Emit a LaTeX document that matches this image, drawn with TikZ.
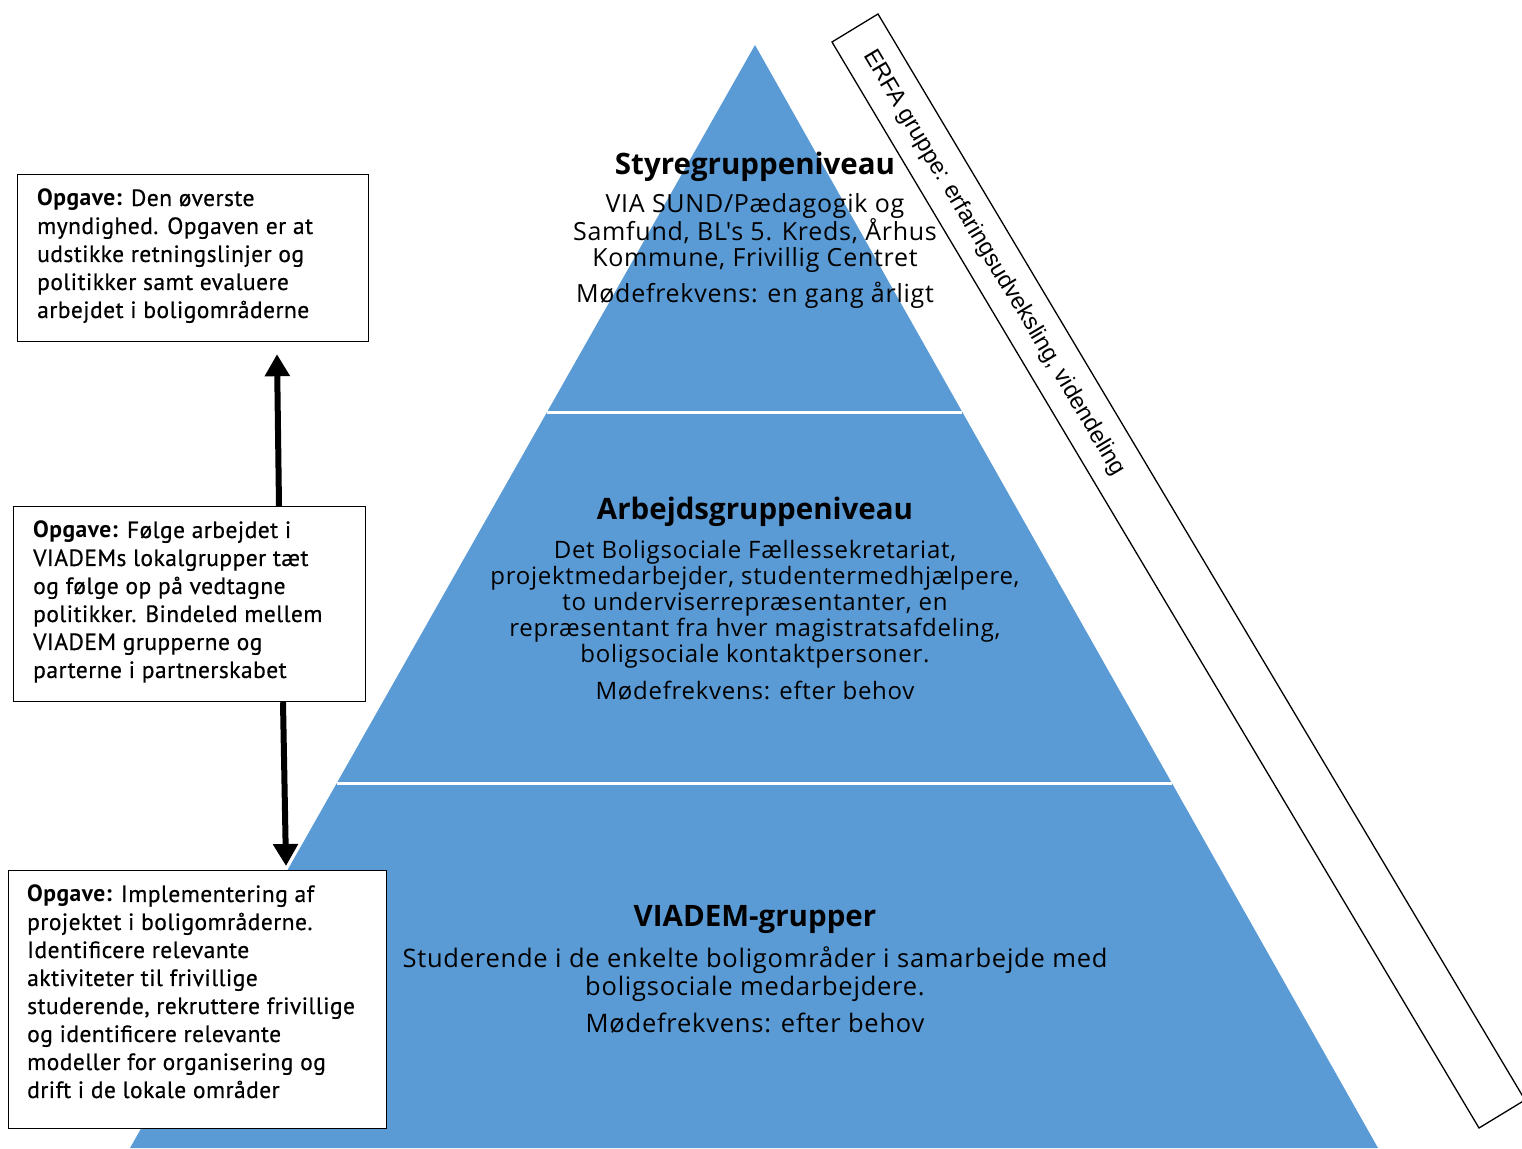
\documentclass[tikz,border=0pt]{standalone}
\usepackage{fontspec}
\setmainfont{Open Sans}
\newfontfamily\pyrfont[LetterSpace=3]{Open Sans}
\newfontfamily\boxfont[LetterSpace=2,FakeBold=0.5]{PT Sans}
\newfontfamily\boxbold[LetterSpace=2]{PT Sans Bold}
\newfontfamily\erfafont{Liberation Sans}
\usetikzlibrary{arrows.meta}
\definecolor{pyrblue}{HTML}{5B9BD5}
\tikzset{
  taskbox/.style={draw=black, line width=1.2pt, fill=white, inner sep=0, anchor=north west},
  tasktext/.style={anchor=north west, inner sep=0, align=left, font=\boxfont\fontsize{23.5}{28}\selectfont},
  pyrhead/.style={inner sep=0, align=center, font=\bfseries\fontsize{29.5}{32}\selectfont},
  pyrbodyt/.style={inner sep=0, align=center, font=\pyrfont\fontsize{25}{26}\selectfont},
  pyrbody/.style={inner sep=0, align=center, font=\pyrfont\fontsize{24}{26}\selectfont},
  pyrbodyb/.style={inner sep=0, align=center, font=\pyrfont\fontsize{25.5}{28}\selectfont},
  uparrow/.style={line width=6pt, -{Triangle[width=24pt,length=22pt]}},
}
\begin{document}
\begin{tikzpicture}[x=1pt,y=-1pt]
\useasboundingbox (0,0) rectangle (1522,1148);
\clip (0,0) rectangle (1522,1148);
% pyramid
\fill[pyrblue] (755,45) -- (1378,1148) -- (130,1148) -- cycle;
\draw[white, line width=3pt] (547,412) -- (962,412);
\draw[white, line width=3pt] (337,783) -- (1172,783);
% ERFA band
\coordinate (eA) at (832,42);
\coordinate (eB) at (878,14);
\coordinate (eC) at (1525,1100);
\coordinate (eD) at (1479,1128);
\draw[line width=1.3pt] (eA) -- (eB) -- (eC) -- (eD) -- cycle;
\node[rotate=-59.2, inner sep=0, font=\erfafont\fontsize{23.5}{26}\selectfont] (erfa) at (994,263) {ERFA gruppe: erfaringsudveksling, videndeling};
% tier texts
\node[pyrhead] (h1) at (755,167) {Styregruppeniveau};
\node[pyrbodyt] (b1) at (755,233) {VIA SUND/Pædagogik og\\Samfund, BL's 5. Kreds, Århus\\Kommune, Frivillig Centret};
\node[pyrbodyt] (f1) at (755,295) {Mødefrekvens: en gang årligt};
\node[pyrhead] (h2) at (755,512) {Arbejdsgruppeniveau};
\node[pyrbody] (b2) at (755,604) {Det Boligsociale Fællessekretariat,\\projektmedarbejder, studentermedhjælpere,\\to underviserrepræsentanter, en\\repræsentant fra hver magistratsafdeling,\\boligsociale kontaktpersoner.};
\node[pyrbody] (f2) at (755,691) {Mødefrekvens: efter behov};
\node[pyrhead] (h3) at (755,919) {VIADEM-grupper};
\node[pyrbodyb] (b3) at (755,974) {Studerende i de enkelte boligområder i samarbejde med\\boligsociale medarbejdere.};
\node[pyrbodyb] (f3) at (755,1023) {Mødefrekvens: efter behov};
% task boxes
\node[taskbox, minimum width=351pt, minimum height=167pt] (k1) at (17,174) {};
\node[tasktext] (k1t) at ([shift={(20,15)}]k1.north west) {{\boxbold Opgave:} Den øverste\\myndighed. Opgaven er at\\udstikke retningslinjer og\\politikker samt evaluere\\arbejdet i boligområderne};
\node[taskbox, minimum width=352pt, minimum height=195pt] (k2) at (13,506) {};
\node[tasktext] (k2t) at ([shift={(20,15)}]k2.north west) {{\boxbold Opgave:} Følge arbejdet i\\VIADEMs lokalgrupper tæt\\og følge op på vedtagne\\politikker. Bindeled mellem\\VIADEM grupperne og\\parterne i partnerskabet};
\node[taskbox, minimum width=378pt, minimum height=258pt] (k3) at (8,870) {};
\node[tasktext] (k3t) at ([shift={(19,15)}]k3.north west) {{\boxbold Opgave:} Implementering af\\projektet i boligområderne.\\Identificere relevante\\aktiviteter til frivillige\\studerende, rekruttere frivillige\\og identificere relevante\\modeller for organisering og\\drift i de lokale områder};
% arrows
\coordinate (a1s) at ([xshift=266pt]k2.north west);
\coordinate (a1e) at ([xshift=260pt,yshift=-12pt]k1.south west);
\draw[uparrow] (a1s) -- (a1e);
\coordinate (a2s) at ([xshift=270pt]k2.south west);
\coordinate (a2e) at ([xshift=278pt,yshift=4pt]k3.north west);
\draw[uparrow] (a2s) -- (a2e);
\end{tikzpicture}
\end{document}
